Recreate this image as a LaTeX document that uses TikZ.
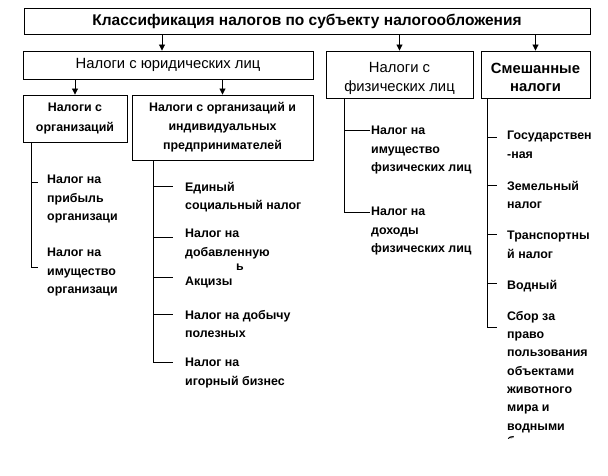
\documentclass[tikz,border=0pt]{standalone}
\usepackage{fontspec}
\setmainfont{Liberation Sans}
\usetikzlibrary{arrows.meta}

\begin{document}
\begin{tikzpicture}[x=1pt, y=-1pt,
    box/.style={draw, line width=0.9pt, align=center, inner sep=0pt},
    leaf/.style={anchor=north west, align=left, inner sep=0pt, font=\fontsize{12.4}{18.3}\selectfont\bfseries},
    arr/.style={line width=0.9pt, -{Triangle[length=6pt, width=6pt]}},
    stem/.style={line width=0.9pt}]
  \useasboundingbox (0,0) rectangle (608,476);

  % Level 1
  \node [box, minimum width=566pt, minimum height=26pt, font=\fontsize{15.5}{17}\selectfont\bfseries] (top) at (307,21) {Классификация налогов по субъекту налогообложения};

  % Level 2
  \node [box, minimum width=290pt, minimum height=28pt, font=\fontsize{14.8}{17}\selectfont] (yur) at (168,65) {Налоги с юридических лиц};
  \node [box, minimum width=147pt, minimum height=47pt] (fiz) at (399.5,74.5) {};
  \node [font=\fontsize{14.8}{19}\selectfont, align=center, inner sep=0pt] (fiz-txt) at (399.5,78) {Налоги с\\физических лиц};
  \node [box, minimum width=109pt, minimum height=47pt] (mix) at (535.5,74.5) {};
  \node [font=\fontsize{14.8}{18}\selectfont\bfseries, align=center, inner sep=0pt] (mix-txt) at (535.5,77.5) {Смешанные\\налоги};

  % Level 3
  \node [box, minimum width=104pt, minimum height=47pt, font=\fontsize{12.4}{20}\selectfont\bfseries] (org) at (75,118.5) {Налоги с\\организаций};
  \node [box, minimum width=181pt, minimum height=65pt, font=\fontsize{12.4}{19}\selectfont\bfseries] (orgip) at (222.5,127.5) {Налоги с организаций и\\индивидуальных\\предпринимателей};

  \draw [arr] (top.south -| 162,0) -- (yur.north -| 162,0);
  \draw [arr] (top.south -| fiz.north) -- (fiz.north);
  \draw [arr] (top.south -| mix.north) -- (mix.north);
  \draw [arr] (yur.south -| org.north) -- (org.north);
  \draw [arr] (yur.south -| orgip.north) -- (orgip.north);

  % Taxes on organisations
  \node [leaf] (prib) at (47,175) {Налог на\\прибыль\\организаци};
  \node [leaf] (imorg) at (47,248) {Налог на\\имущество\\организаци};
  \coordinate (prib-t) at (38,182);
  \coordinate (imorg-t) at (38,267);
  \draw [stem] (org.south -| 31,0) |- (imorg-t);
  \draw [stem] (prib-t -| 31,0) -- (prib-t);

  % Taxes on organisations and entrepreneurs
  \node [leaf] (esn) at (185,182) {Единый\\социальный налог};
  \node [leaf] (nds) at (185,229) {Налог на\\добавленную};
  \node [leaf] (stray) at (236,264) {ь};
  \node [leaf] (akciz) at (185,277) {Акцизы};
  \node [leaf] (ndpi) at (185,310) {Налог на добычу\\полезных};
  \node [leaf] (igor) at (185,358) {Налог на\\игорный бизнес};
  \foreach \n/\y in {esn/186, nds/237, akciz/277, ndpi/314, igor/362}
    \coordinate (\n-t) at (173,\y);
  \draw [stem] (orgip.south -| 153,0) |- (igor-t);
  \foreach \n in {esn, nds, akciz, ndpi}
    \draw [stem] (\n-t -| 153,0) -- (\n-t);

  % Taxes on individuals
  \node [leaf] (imfiz) at (371,126) {Налог на\\имущество\\физических лиц};
  \node [leaf] (doh) at (371,207) {Налог на\\доходы\\физических лиц};
  \coordinate (imfiz-t) at (370,130);
  \coordinate (doh-t) at (370,212);
  \draw [stem] (fiz.south -| 344,0) |- (doh-t);
  \draw [stem] (imfiz-t -| 344,0) -- (imfiz-t);

  % Mixed taxes
  \node [leaf] (gos) at (507,131) {Государствен\\-ная};
  \node [leaf] (zem) at (507,181) {Земельный\\налог};
  \node [leaf] (trans) at (507,231) {Транспортны\\й налог};
  \node [leaf] (vod) at (507,280) {Водный};
  \node [leaf] (sbor) at (507,311) {Сбор за\\право\\пользования\\объектами\\животного\\мира и\\водными};
  \begin{scope}
    \clip (500,430) rectangle (560,438);
    \node [leaf] (cut) at (507,436) {б};
  \end{scope}
  \foreach \n/\y in {gos/137, zem/185, trans/234, vod/283, sbor/327}
    \coordinate (\n-t) at (497,\y);
  \draw [stem] (mix.south -| 487,0) |- (sbor-t);
  \foreach \n in {gos, zem, trans, vod}
    \draw [stem] (\n-t -| 487,0) -- (\n-t);
\end{tikzpicture}
\end{document}
